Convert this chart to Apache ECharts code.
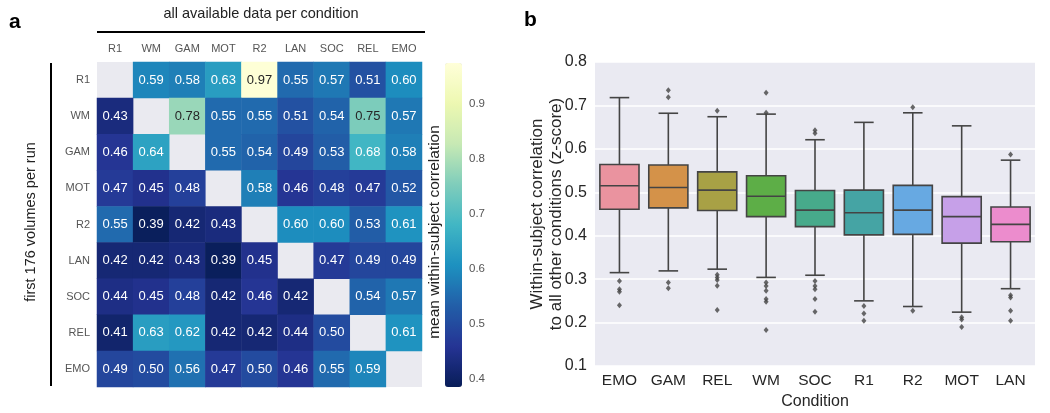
<!DOCTYPE html>
<html>
<head>
<meta charset="utf-8">
<script src="https://cdn.jsdelivr.net/npm/echarts@6/dist/echarts.min.js"></script>
<style>
html,body{margin:0;padding:0;background:#fff;}
#chart{width:1050px;height:413px;}
</style>
</head>
<body>
<div id="chart"></div>
<script>
// ---------- Panel a data ----------
const conditions = ['R1','WM','GAM','MOT','R2','LAN','SOC','REL','EMO'];
const rowR1  = [null,0.59,0.58,0.63,0.97,0.55,0.57,0.51,0.60];
const rowWM  = [0.43,null,0.78,0.55,0.55,0.51,0.54,0.75,0.57];
const rowGAM = [0.46,0.64,null,0.55,0.54,0.49,0.53,0.68,0.58];
const rowMOT = [0.47,0.45,0.48,null,0.58,0.46,0.48,0.47,0.52];
const rowR2  = [0.55,0.39,0.42,0.43,null,0.60,0.60,0.53,0.61];
const rowLAN = [0.42,0.42,0.43,0.39,0.45,null,0.47,0.49,0.49];
const rowSOC = [0.44,0.45,0.48,0.42,0.46,0.42,null,0.54,0.57];
const rowREL = [0.41,0.63,0.62,0.42,0.42,0.44,0.50,null,0.61];
const rowEMO = [0.49,0.50,0.56,0.47,0.50,0.46,0.55,0.59,null];
const colorbarTicks = [0.4,0.5,0.6,0.7,0.8,0.9];

// ---------- Panel b data ----------
const boxCategories = ['EMO','GAM','REL','WM','SOC','R1','R2','MOT','LAN'];
const whiskerHigh = [0.718,0.682,0.674,0.680,0.621,0.661,0.683,0.653,0.574];
const q3Values    = [0.564,0.563,0.547,0.538,0.504,0.505,0.516,0.490,0.466];
const medianValues= [0.515,0.511,0.505,0.491,0.459,0.453,0.459,0.444,0.426];
const q1Values    = [0.461,0.464,0.458,0.444,0.421,0.402,0.403,0.383,0.386];
const whiskerLow  = [0.315,0.319,0.323,0.304,0.309,0.250,0.237,0.224,0.278];
const outEMO = [0.296,0.277,0.271,0.240];
const outGAM = [0.735,0.719,0.292,0.279];
const outREL = [0.688,0.310,0.304,0.298,0.285,0.229];
const outWM  = [0.729,0.683,0.292,0.284,0.273,0.254,0.248,0.183];
const outSOC = [0.643,0.636,0.296,0.284,0.277,0.254,0.225];
const outR1  = [0.238,0.221,0.204];
const outR2  = [0.696,0.227];
const outMOT = [0.212,0.207,0.190];
const outLAN = [0.587,0.263,0.258,0.227,0.204];

// ---------- build ----------
const matrixRows = [rowR1,rowWM,rowGAM,rowMOT,rowR2,rowLAN,rowSOC,rowREL,rowEMO];
const heatData = [];
matrixRows.forEach((row, r) => {
  row.forEach((v, c) => {
    if (v === null) return;
    heatData.push({
      value: [c, r, v],
      label: { color: v >= 0.7 ? '#262626' : '#ffffff' }
    });
  });
});

const boxColors = ['#EA939F','#D49249','#A8A145','#5DAE47','#47AA8B','#45A4A4','#67A9E2','#C6A0E8','#EC8CCD'];
const boxData = boxCategories.map((c, i) => [i, whiskerLow[i], q1Values[i], medianValues[i], q3Values[i], whiskerHigh[i]]);
const outlierLists = [outEMO,outGAM,outREL,outWM,outSOC,outR1,outR2,outMOT,outLAN];
const outlierData = [];
outlierLists.forEach((list, i) => list.forEach(v => outlierData.push([i, v])));

const FONT = 'Liberation Sans, Arial, sans-serif';
const LINE = '#444444';

const chart = echarts.init(document.getElementById('chart'), null, {renderer: 'canvas'});

const option = {
  animation: false,
  backgroundColor: '#ffffff',
  textStyle: { fontFamily: FONT },
  grid: [
    { left: 97, top: 62, width: 325, height: 325, show: true, backgroundColor: '#EAEAF0', borderWidth: 0, outerBoundsMode: 'none', containLabel: false },
    { left: 445, top: 63, width: 17, height: 324, show: false, outerBoundsMode: 'none', containLabel: false },
    { left: 595, top: 62, width: 440, height: 304, show: true, backgroundColor: '#EAEAF2', borderWidth: 0, outerBoundsMode: 'none', containLabel: false }
  ],
  xAxis: [
    { gridIndex: 0, type: 'category', data: conditions, position: 'top',
      axisLine: {show: false}, axisTick: {show: false}, splitLine: {show: false},
      axisLabel: { fontSize: 11, color: '#555', margin: 8, fontFamily: FONT } },
    { gridIndex: 1, type: 'value', show: false, min: 0, max: 1 },
    { gridIndex: 2, type: 'category', data: boxCategories,
      axisLine: {show: false}, axisTick: {show: false}, splitLine: {show: false},
      axisLabel: { fontSize: 15.5, color: '#262626', margin: 7, fontFamily: FONT },
      name: 'Condition', nameLocation: 'middle', nameGap: 26,
      nameTextStyle: { fontSize: 16, color: '#262626', fontFamily: FONT } }
  ],
  yAxis: [
    { gridIndex: 0, type: 'category', data: conditions, inverse: true,
      axisLine: {show: false}, axisTick: {show: false}, splitLine: {show: false},
      axisLabel: { fontSize: 11, color: '#555', margin: 7, fontFamily: FONT } },
    { gridIndex: 1, type: 'value', min: 0.385, max: 0.975, position: 'right',
      axisLine: {show: false}, axisTick: {show: false}, splitLine: {show: false},
      axisLabel: { customValues: colorbarTicks, fontSize: 11.5, color: '#555', margin: 7, fontFamily: FONT,
        formatter: v => v.toFixed(1) } },
    { gridIndex: 2, type: 'value', min: 0.1, max: 0.8, interval: 0.1,
      axisLine: {show: false}, axisTick: {show: false},
      splitLine: { show: true, lineStyle: { color: '#ffffff', width: 1.5 } },
      axisLabel: { fontSize: 16, color: '#262626', margin: 8, fontFamily: FONT,
        formatter: v => v.toFixed(1) } }
  ],
  visualMap: {
    type: 'continuous', seriesIndex: 0, min: 0.385, max: 0.975,
    left: 445, top: 63, itemWidth: 17, itemHeight: 324, padding: 0,
    calculable: false, realtime: false, show: true,
    inRange: { color: ['#081d58','#253494','#225ea8','#1d91c0','#41b6c4','#7fcdbb','#c7e9b4','#edf8b1','#ffffd9'] }
  },
  series: [
    { type: 'heatmap', xAxisIndex: 0, yAxisIndex: 0, data: heatData,
      itemStyle: { borderWidth: 0 },
      emphasis: { disabled: true },
      label: { show: true, fontSize: 13, fontFamily: FONT,
        formatter: p => p.value[2].toFixed(2) } },
    { type: 'custom', xAxisIndex: 2, yAxisIndex: 2, data: boxData,
      encode: { x: 0, y: [1,2,3,4,5] },
      renderItem: function (params, api) {
        const i = api.value(0);
        const lo = api.coord([i, api.value(1)]);
        const q1 = api.coord([i, api.value(2)]);
        const md = api.coord([i, api.value(3)]);
        const q3 = api.coord([i, api.value(4)]);
        const hi = api.coord([i, api.value(5)]);
        const bw = api.size([1, 0])[0] * 0.8;
        const cx = lo[0];
        const cw = bw / 4;
        const ls = { stroke: LINE, lineWidth: 1.6 };
        return {
          type: 'group',
          children: [
            { type: 'line', shape: {x1: cx, y1: q3[1], x2: cx, y2: hi[1]}, style: ls },
            { type: 'line', shape: {x1: cx, y1: q1[1], x2: cx, y2: lo[1]}, style: ls },
            { type: 'line', shape: {x1: cx - cw, y1: hi[1], x2: cx + cw, y2: hi[1]}, style: ls },
            { type: 'line', shape: {x1: cx - cw, y1: lo[1], x2: cx + cw, y2: lo[1]}, style: ls },
            { type: 'rect', shape: {x: cx - bw/2, y: q3[1], width: bw, height: q1[1] - q3[1]},
              style: { fill: boxColors[i], stroke: LINE, lineWidth: 1.6 } },
            { type: 'line', shape: {x1: cx - bw/2, y1: md[1], x2: cx + bw/2, y2: md[1]}, style: ls }
          ]
        };
      }
    },
    { type: 'scatter', xAxisIndex: 2, yAxisIndex: 2, data: outlierData,
      symbol: 'diamond', symbolSize: [5, 6],
      itemStyle: { color: LINE }, emphasis: { disabled: true } }
  ],
  graphic: [
    { type: 'text', left: 9, top: 12, style: { text: 'a', font: 'bold 21px ' + FONT, fill: '#000' } },
    { type: 'text', left: 524, top: 10, style: { text: 'b', font: 'bold 21px ' + FONT, fill: '#000' } },
    { type: 'text', x: 261, y: 14, style: { text: 'all available data per condition', font: '14.5px ' + FONT, fill: '#222', align: 'center', verticalAlign: 'middle' } },
    { type: 'line', shape: { x1: 97, y1: 32, x2: 425, y2: 32 }, style: { stroke: '#000', lineWidth: 2 } },
    { type: 'line', shape: { x1: 51, y1: 63, x2: 51, y2: 386 }, style: { stroke: '#000', lineWidth: 2 } },
    { type: 'text', x: 31, y: 222, rotation: Math.PI / 2, style: { text: 'first 176 volumes per run', font: '14.5px ' + FONT, fill: '#222', align: 'center', verticalAlign: 'middle' } },
    { type: 'text', x: 435, y: 232, rotation: Math.PI / 2, style: { text: 'mean within-subject correlation', font: '15.5px ' + FONT, fill: '#222', align: 'center', verticalAlign: 'middle' } },
    { type: 'text', x: 547, y: 214, rotation: Math.PI / 2, style: { text: 'Within-subject correlation\nto all other conditions (z-score)', font: '17px ' + FONT, lineHeight: 19, fill: '#262626', align: 'center', verticalAlign: 'middle' } }
  ]
};
chart.setOption(option);
</script>
</body>
</html>
